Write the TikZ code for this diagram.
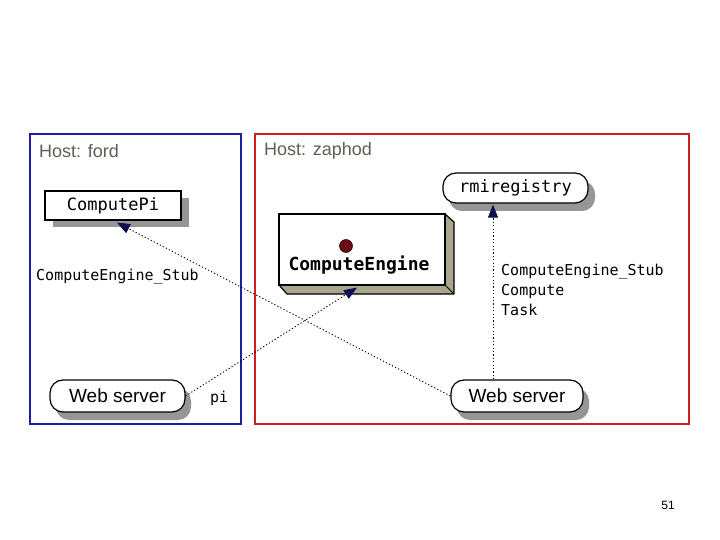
\documentclass[tikz,border=0pt]{standalone}
\usepackage{fontspec}
\setmainfont{Liberation Sans}
\newfontfamily\monof{DejaVu Sans Mono}
\usetikzlibrary{arrows.meta,shadows}
\definecolor{hostgray}{RGB}{95,95,85}
\definecolor{fordblue}{RGB}{30,30,160}
\definecolor{zaphodred}{RGB}{205,30,35}
\definecolor{navyhead}{RGB}{15,15,80}
\definecolor{depthcol}{RGB}{168,166,140}
\definecolor{dotred}{RGB}{110,10,15}
\definecolor{shadowgray}{RGB}{150,150,150}
\tikzset{
  hostbox/.style={line width=1.6pt},
  hosttitle/.style={anchor=west,text=hostgray,font=\fontsize{18}{20}\selectfont,inner sep=0pt},
  classbox/.style={draw=black,fill=white,line width=1.2pt,inner sep=0pt,
    font=\monof\fontsize{17}{19}\selectfont,
    drop shadow={shadow xshift=8pt,shadow yshift=-7pt,fill=shadowgray,opacity=1}},
  procbox/.style={draw=black,fill=white,line width=1.2pt,inner sep=0pt,rounded corners=13pt,
    drop shadow={shadow xshift=6pt,shadow yshift=-8pt,fill=shadowgray,opacity=1}},
  msglabel/.style={font=\monof\fontsize{15}{20}\selectfont,inner sep=0pt},
  callarrow/.style={line width=0.9pt,dash pattern=on 1.2pt off 2.2pt,
    -{Triangle[length=13pt,width=10pt,fill=navyhead,color=navyhead]}}
}
\begin{document}
\begin{tikzpicture}[x=1pt,y=-1pt]
\useasboundingbox (0,0) rectangle (720,540);
\fill[white] (0,0) rectangle (720,540);

% host boxes
\draw[hostbox,draw=fordblue] (30,134) rectangle (241,424);
\draw[hostbox,draw=zaphodred] (255,134) rectangle (689,424);
\node[hosttitle] (hford) at (39,151) {Host: ford};
\node[hosttitle] (hzaphod) at (264,151) {Host: zaphod};

% ComputePi
\node[classbox,minimum width=136pt,minimum height=29pt] (cpi) at (113,205.5) {ComputePi};

% rmiregistry
\node[procbox,font=\monof\fontsize{17}{19}\selectfont,minimum width=145pt,minimum height=30pt,
  drop shadow={shadow xshift=7pt,shadow yshift=-8pt,fill=shadowgray,opacity=1}] (rmi) at (515.5,188) {rmiregistry};

% ComputeEngine 3D box
\fill[depthcol] (445,214) -- (454,222) -- (454,294) -- (287,294) -- (279,285) -- (445,285) -- cycle;
\draw[line width=1.2pt,line join=round] (445,214) -- (454,222) -- (454,294) -- (287,294) -- (279,285);
\draw[line width=1pt] (445,285) -- (454,294);
\node[draw=black,fill=white,line width=1.2pt,minimum width=166pt,minimum height=71pt,inner sep=0pt] (ce) at (362,249.5) {};
\fill[dotred,draw=black,line width=0.5pt] (346,246) circle (6.5pt);
\node[inner sep=0pt,font=\monof\bfseries\fontsize{18}{20}\selectfont] (celbl) at (359,265) {ComputeEngine};

% web servers
\node[procbox,font=\fontsize{19}{21}\selectfont,minimum width=135pt,minimum height=32pt] (ws1) at (117.5,396) {Web server};
\node[procbox,font=\fontsize{19}{21}\selectfont,minimum width=132pt,minimum height=32pt] (ws2) at (517,396) {Web server};

% connectors
\coordinate (vx) at (493,300);
\draw[callarrow] (ws2.west) -- ([xshift=4pt,yshift=-2pt]cpi.south);
\draw[callarrow] (ws1.east) -- ([xshift=-5pt,yshift=-2pt]ce.south);
\draw[callarrow] (ws2.north -| vx) -- ([yshift=-1pt]rmi.south -| vx);

% labels
\node[msglabel,anchor=west] (lstub) at (36,277) {ComputeEngine\_Stub};
\node[msglabel,anchor=west] (lpi) at (210,398) {pi};
\node[msglabel,anchor=west,align=left] (lright) at (501,290) {ComputeEngine\_Stub\\Compute\\Task};

\node[inner sep=0pt,font=\fontsize{12}{14}\selectfont] (pg) at (668,505) {51};
\end{tikzpicture}
\end{document}
